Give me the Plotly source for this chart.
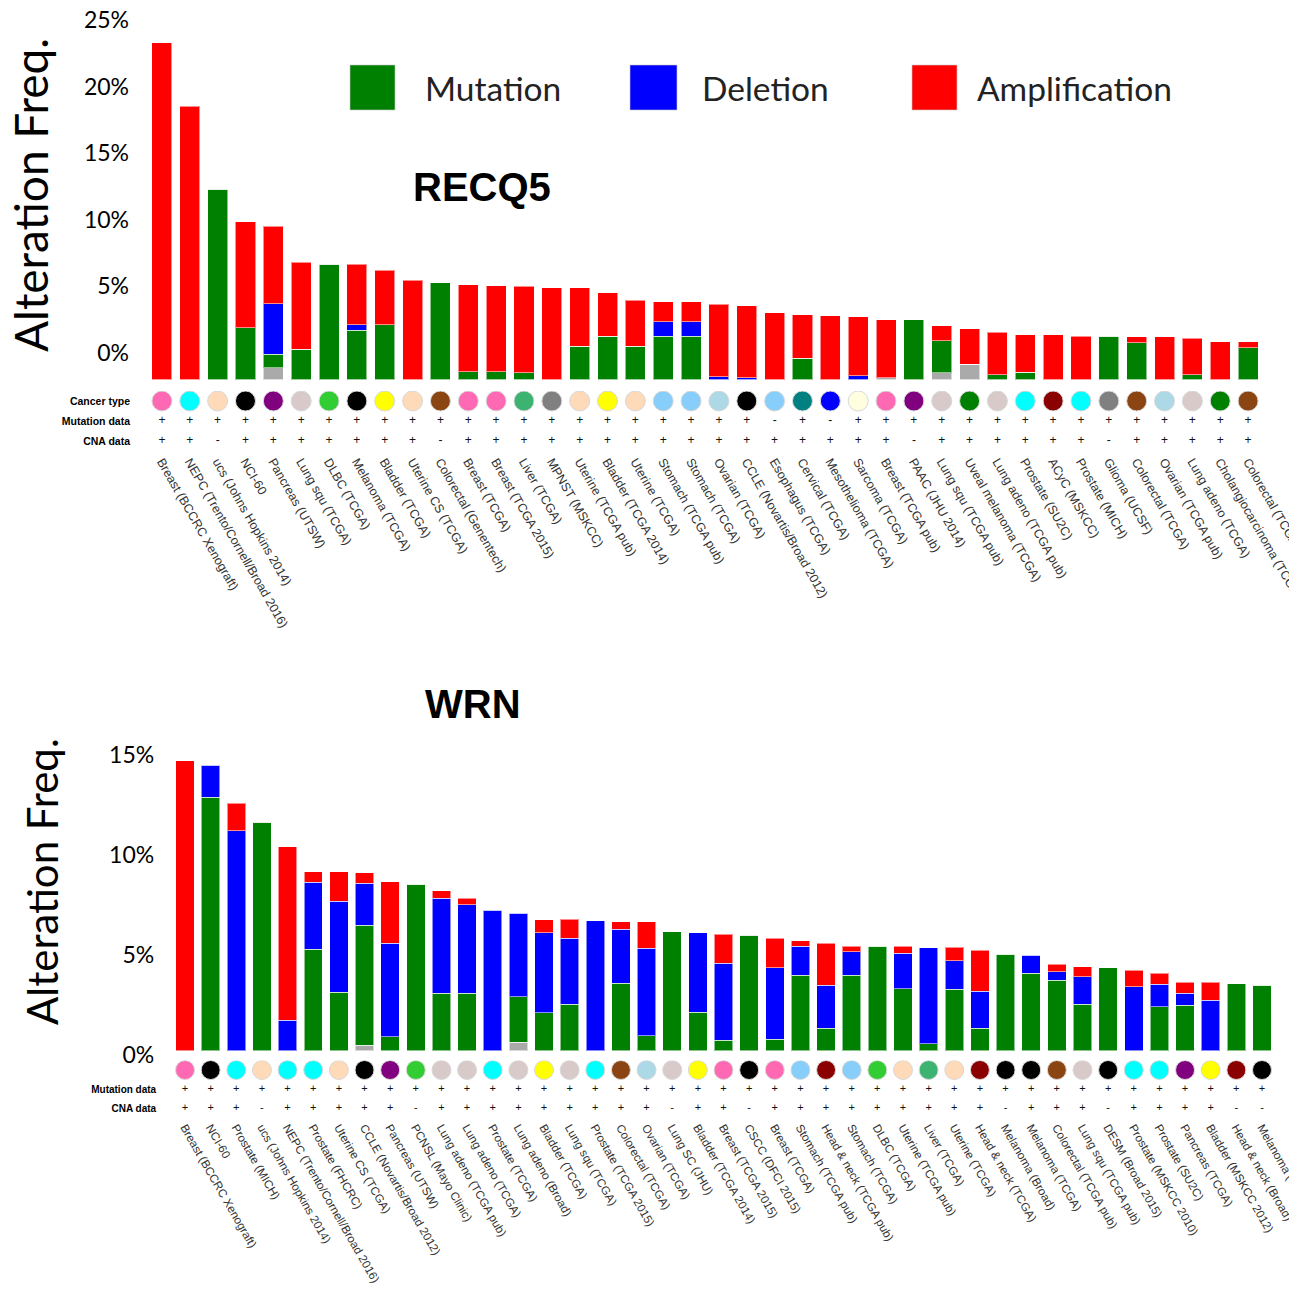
import plotly.graph_objects as go

# ---------------- RECQ5 data ----------------
recq5_studies = [
    "Breast (BCCRC Xenograft)", "NEPC (Trento/Cornell/Broad 2016)", "ucs (Johns Hopkins 2014)", "NCI-60",
    "Pancreas (UTSW)", "Lung squ (TCGA)", "DLBC (TCGA)", "Melanoma (TCGA)", "Bladder (TCGA)",
    "Uterine CS (TCGA)", "Colorectal (Genentech)", "Breast (TCGA)", "Breast (TCGA 2015)", "Liver (TCGA)",
    "MPNST (MSKCC)", "Uterine (TCGA pub)", "Bladder (TCGA 2014)", "Uterine (TCGA)", "Stomach (TCGA pub)",
    "Stomach (TCGA)", "Ovarian (TCGA)", "CCLE (Novartis/Broad 2012)", "Esophagus (TCGA)", "Cervical (TCGA)",
    "Mesothelioma (TCGA)", "Sarcoma (TCGA)", "Breast (TCGA pub)", "PAAC (JHU 2014)", "Lung squ (TCGA pub)",
    "Uveal melanoma (TCGA)", "Lung adeno (TCGA pub)", "Prostate (SU2C)", "ACyC (MSKCC)", "Prostate (MICH)",
    "Glioma (UCSF)", "Colorectal (TCGA)", "Ovarian (TCGA pub)", "Lung adeno (TCGA)",
    "Cholangiocarcinoma (TCGA)", "Colorectal (TCGA pub)",
]
recq5_types = [
    "Breast", "Prostate", "Uterus", "Mixed", "Pancreas", "Lung", "Lymphoid", "Skin", "Bladder", "Uterus",
    "Bowel", "Breast", "Breast", "Liver", "Nerve", "Uterus", "Bladder", "Uterus", "Stomach", "Stomach",
    "Ovary", "Mixed", "Esophagus", "Cervix", "Pleura", "SoftTissue", "Breast", "Pancreas", "Lung", "Eye",
    "Lung", "Prostate", "HeadNeck", "Prostate", "Brain", "Bowel", "Ovary", "Lung", "Biliary", "Bowel",
]
recq5_mutation_data = ["+"] * 22 + ["-", "+", "-"] + ["+"] * 15
recq5_cna_data = ["+", "+", "-"] + ["+"] * 7 + ["-"] + ["+"] * 16 + ["-"] + ["+"] * 6 + ["-"] + ["+"] * 5
recq5_multiple = [0, 0, 0, 0, 0.9, 0, 0, 0, 0, 0, 0, 0, 0, 0, 0, 0, 0, 0, 0, 0,
                  0, 0, 0, 0, 0, 0, 0.15, 0, 0.5, 1.15, 0, 0, 0, 0, 0, 0, 0, 0, 0, 0]
recq5_mutation = [0, 0, 14.3, 3.9, 1.0, 2.27, 8.65, 3.7, 4.1, 0, 7.27, 0.6, 0.6, 0.5, 0, 2.5, 3.26, 2.5, 3.26, 3.26,
                  0, 0, 0, 1.58, 0, 0, 0, 4.5, 2.4, 0, 0.35, 0.55, 0, 0, 3.25, 2.76, 0, 0.35, 0, 2.4]
recq5_deletion = [0, 0, 0, 0, 3.8, 0, 0, 0.4, 0, 0, 0, 0, 0, 0, 0, 0, 0, 0, 1.07, 1.07,
                  0.2, 0.15, 0, 0, 0, 0.3, 0, 0, 0, 0, 0, 0, 0, 0, 0, 0, 0, 0, 0, 0]
recq5_amplification = [25.3, 20.5, 0, 7.95, 5.8, 6.55, 0, 4.55, 4.1, 7.47, 0, 6.5, 6.45, 6.5, 6.87, 4.37, 3.24,
                       3.45, 1.49, 1.49, 5.45, 5.39, 5.03, 3.29, 4.77, 4.4, 4.35, 0, 1.15, 2.67, 3.2, 2.8,
                       3.35, 3.25, 0, 0.45, 3.21, 2.75, 2.85, 0.45]
recq5_tick_labels = ["0%", "5%", "10%", "15%", "20%", "25%"]

# ---------------- WRN data ----------------
wrn_studies = [
    "Breast (BCCRC Xenograft)", "NCI-60", "Prostate (MICH)", "ucs (Johns Hopkins 2014)",
    "NEPC (Trento/Cornell/Broad 2016)", "Prostate (FHCRC)", "Uterine CS (TCGA)", "CCLE (Novartis/Broad 2012)",
    "Pancreas (UTSW)", "PCNSL (Mayo Clinic)", "Lung adeno (TCGA pub)", "Lung adeno (TCGA)", "Prostate (TCGA)",
    "Lung adeno (Broad)", "Bladder (TCGA)", "Lung squ (TCGA)", "Prostate (TCGA 2015)", "Colorectal (TCGA)",
    "Ovarian (TCGA)", "Lung SC (JHU)", "Bladder (TCGA 2014)", "Breast (TCGA 2015)", "CSCC (DFCI 2015)",
    "Breast (TCGA)", "Stomach (TCGA pub)", "Head & neck (TCGA pub)", "Stomach (TCGA)", "DLBC (TCGA)",
    "Uterine (TCGA pub)", "Liver (TCGA)", "Uterine (TCGA)", "Head & neck (TCGA)", "Melanoma (Broad)",
    "Melanoma (TCGA)", "Colorectal (TCGA pub)", "Lung squ (TCGA pub)", "DESM (Broad 2015)",
    "Prostate (MSKCC 2010)", "Prostate (SU2C)", "Pancreas (TCGA)", "Bladder (MSKCC 2012)",
    "Head & neck (Broad)", "Melanoma (Yale)",
]
wrn_types = [
    "Breast", "Mixed", "Prostate", "Uterus", "Prostate", "Prostate", "Uterus", "Mixed", "Pancreas", "Lymphoid",
    "Lung", "Lung", "Prostate", "Lung", "Bladder", "Lung", "Prostate", "Bowel", "Ovary", "Lung", "Bladder",
    "Breast", "Skin", "Breast", "Stomach", "HeadNeck", "Stomach", "Lymphoid", "Uterus", "Liver", "Uterus",
    "HeadNeck", "Skin", "Skin", "Bowel", "Lung", "Skin", "Prostate", "Prostate", "Pancreas", "Bladder",
    "HeadNeck", "Skin",
]
wrn_mutation_data = ["+"] * 43
wrn_cna_data = ["+", "+", "+", "-", "+", "+", "+", "+", "+", "-", "+", "+", "+", "+", "+", "+", "+", "+", "+",
                "-", "+", "+", "-", "+", "+", "+", "+", "+", "+", "+", "+", "+", "-", "+", "+", "+", "-", "+",
                "+", "+", "+", "-", "-"]
wrn_multiple = [0, 0, 0, 0, 0, 0, 0, 0.28, 0, 0, 0, 0, 0, 0.42, 0, 0, 0, 0, 0, 0, 0, 0, 0, 0, 0, 0, 0, 0,
                0, 0, 0, 0, 0, 0, 0, 0, 0, 0, 0, 0, 0, 0, 0]
wrn_mutation = [0, 12.67, 0, 11.42, 0, 5.07, 2.92, 6.0, 0.7, 8.33, 2.87, 2.87, 0, 2.28, 1.9, 2.32, 0, 3.37,
                0.75, 5.95, 1.92, 0.53, 5.77, 0.58, 3.77, 1.13, 3.77, 5.22, 3.1, 0.35, 3.08, 1.13, 4.82, 3.87,
                3.53, 2.32, 4.15, 0, 2.2, 2.27, 0, 3.35, 3.28]
wrn_deletion = [0, 1.6, 11.0, 0, 1.53, 3.35, 4.55, 2.09, 4.67, 0, 4.75, 4.43, 7.03, 4.18, 4.0, 3.3, 6.5, 2.7,
                4.37, 0, 3.98, 3.84, 0, 3.57, 1.46, 2.14, 1.18, 0, 1.78, 4.8, 1.42, 1.85, 0, 0.9, 0.42, 1.38,
                0, 3.2, 1.12, 0.6, 2.53, 0, 0]
wrn_amplification = [14.5, 0, 1.37, 0, 8.67, 0.53, 1.48, 0.53, 3.08, 0, 0.38, 0.32, 0, 0, 0.65, 0.95, 0, 0.38,
                     1.33, 0, 0, 1.46, 0, 1.47, 0.27, 2.11, 0.27, 0, 0.34, 0, 0.67, 2.05, 0, 0, 0.38, 0.5, 0,
                     0.83, 0.55, 0.55, 0.89, 0, 0]
wrn_tick_labels = ["0%", "5%", "10%", "15%"]

legend_labels = ["Mutation", "Deletion", "Amplification"]

# ---------------- styles ----------------
TYPE_COLORS = {
    "Breast": "#FF69B4", "Prostate": "#00FFFF", "Uterus": "#FFDAB9", "Mixed": "#000000",
    "Pancreas": "#800080", "Lung": "#D9CACA", "Lymphoid": "#32CD32", "Skin": "#000000",
    "Bladder": "#FFFF00", "Bowel": "#8B4513", "Liver": "#3CB371", "Nerve": "#808080",
    "Stomach": "#87CEFA", "Esophagus": "#87CEFA", "Ovary": "#ADD8E6", "Cervix": "#008080",
    "Pleura": "#0000FF", "SoftTissue": "#FFFFE0", "Eye": "#008000", "HeadNeck": "#8B0000",
    "Brain": "#808080", "Biliary": "#008000",
}
C_MULT, C_MUT, C_DEL, C_AMP = "#AAAAAA", "#008000", "#0000FF", "#FF0000"
W = H = 1289


def py(p):
    return 1 - p / H


def px(p):
    return p / W


fig = go.Figure()


def add_panel(studies, types, mut_d, cna_d, mult, mut, dele, amp, xa, ya, xa2, ya2, dot_size, sign_size):
    for vals, col in ((mult, C_MULT), (mut, C_MUT), (dele, C_DEL), (amp, C_AMP)):
        fig.add_trace(go.Bar(x=studies, y=vals, marker=dict(color=col, line=dict(width=1, color="rgba(255,255,255,0.55)")),
                             showlegend=False, xaxis=xa, yaxis=ya))
    fig.add_trace(go.Scatter(x=studies, y=[0] * len(studies), mode="markers",
                             marker=dict(size=dot_size, color=[TYPE_COLORS[t] for t in types],
                                         line=dict(width=1, color="#D8D8D8")),
                             showlegend=False, xaxis=xa2, yaxis=ya2))
    fig.add_trace(go.Scatter(x=studies, y=[1] * len(studies), mode="text", text=mut_d,
                             textfont=dict(size=sign_size, color="#111", family="Liberation Sans"),
                             showlegend=False, xaxis=xa2, yaxis=ya2))
    fig.add_trace(go.Scatter(x=studies, y=[2] * len(studies), mode="text", text=cna_d,
                             textfont=dict(size=sign_size, color="#111", family="Liberation Sans"),
                             showlegend=False, xaxis=xa2, yaxis=ya2))


add_panel(recq5_studies, recq5_types, recq5_mutation_data, recq5_cna_data, recq5_multiple, recq5_mutation,
          recq5_deletion, recq5_amplification, "x", "y", "x2", "y2", 20, 12)
add_panel(wrn_studies, wrn_types, wrn_mutation_data, wrn_cna_data, wrn_multiple, wrn_mutation,
          wrn_deletion, wrn_amplification, "x3", "y3", "x4", "y4", 19, 11)

n1, n2 = len(recq5_studies), len(wrn_studies)
top_x_dom = [px(148), px(1262)]
bot_x_dom = [px(172.2), px(1274.8)]
sans = "Liberation Sans, Arial, sans-serif"
cal = "Lato, sans-serif"

common_x = dict(showgrid=False, zeroline=False, showline=False, ticks="", automargin=False,
                type="category")
fig.update_layout(
    template="none", width=W, height=H, margin=dict(l=0, r=0, t=0, b=0),
    paper_bgcolor="white", plot_bgcolor="white", barmode="stack", bargap=0.28, showlegend=False,
    xaxis=dict(common_x, domain=top_x_dom, range=[-0.5, n1 - 0.5], showticklabels=False,
               categoryorder="array", categoryarray=recq5_studies),
    yaxis=dict(domain=[py(379.5), py(12)], range=[0, (379.5 - 12) / 13.32], showgrid=False, zeroline=False,
               tickvals=[2 + 5 * i for i in range(len(recq5_tick_labels))], ticktext=recq5_tick_labels,
               tickfont=dict(size=23, color="black", family=cal), ticklabelstandoff=18, automargin=False),
    xaxis2=dict(common_x, domain=top_x_dom, range=[-0.5, n1 - 0.5], categoryorder="array",
                categoryarray=recq5_studies, anchor="y2", tickangle=60,
                tickfont=dict(size=12.5, color="#333", family=sans)),
    yaxis2=dict(domain=[py(451), py(391)], range=[2.5, -0.5], anchor="x2", showgrid=False, zeroline=False,
                tickvals=[0, 1, 2], ticktext=["Cancer type", "Mutation data", "CNA data"],
                tickfont=dict(size=10.5, color="black", family=sans, weight="bold"), ticklabelstandoff=17,
                automargin=False),
    xaxis3=dict(common_x, domain=bot_x_dom, range=[-0.5, n2 - 0.5], showticklabels=False, anchor="y3",
                categoryorder="array", categoryarray=wrn_studies),
    yaxis3=dict(domain=[py(1056.7), py(734.7)], range=[-0.3, 15.8], anchor="x3", showgrid=False,
                zeroline=False, tickvals=[-0.2 + 5 * i for i in range(len(wrn_tick_labels))],
                ticktext=wrn_tick_labels, tickfont=dict(size=23, color="black", family=cal),
                ticklabelstandoff=17, automargin=False),
    xaxis4=dict(common_x, domain=bot_x_dom, range=[-0.5, n2 - 0.5], categoryorder="array",
                categoryarray=wrn_studies, anchor="y4", tickangle=60,
                tickfont=dict(size=11.7, color="#333", family=sans)),
    yaxis4=dict(domain=[py(1117.5), py(1060.5)], range=[2.5, -0.5], anchor="x4", showgrid=False,
                zeroline=False, tickvals=[0, 1, 2], ticktext=["", "Mutation data", "CNA data"],
                tickfont=dict(size=10, color="black", family=sans, weight="bold"), ticklabelstandoff=15,
                automargin=False),
)

# titles
fig.add_annotation(text="<b>RECQ5</b>", x=px(482), y=py(187), xref="paper", yref="paper", showarrow=False,
                   font=dict(size=40, color="black", family=sans), xanchor="center", yanchor="middle")
fig.add_annotation(text="<b>WRN</b>", x=px(473), y=py(704), xref="paper", yref="paper", showarrow=False,
                   font=dict(size=40, color="black", family=sans), xanchor="center", yanchor="middle")
fig.add_annotation(text="Alteration Freq.", x=px(30), y=py(195), xref="paper", yref="paper", showarrow=False,
                   textangle=-90, font=dict(size=46, color="black", family=cal), xanchor="center",
                   yanchor="middle")
fig.add_annotation(text="Alteration Freq.", x=px(42), y=py(882), xref="paper", yref="paper", showarrow=False,
                   textangle=-90, font=dict(size=42, color="black", family=cal), xanchor="center",
                   yanchor="middle")

# legend
legend_boxes = [(350, 395, C_MUT, 423), (630, 677, C_DEL, 700), (912, 957, C_AMP, 975)]
for (x0, x1, col, tx), lab in zip(legend_boxes, legend_labels):
    fig.add_shape(type="rect", xref="paper", yref="paper", x0=px(x0), x1=px(x1), y0=py(110), y1=py(65),
                  fillcolor=col, line=dict(width=1, color="rgba(200,200,200,0.6)"))
    fig.add_annotation(text=lab, x=px(tx), y=py(88), xref="paper", yref="paper", showarrow=False,
                       font=dict(size=33.5, color="#222", family=cal), xanchor="left", yanchor="middle")

fig.write_html("out.html", config={"displayModeBar": False},
               post_script="document.body.style.margin='0';document.body.style.overflow='hidden';")
